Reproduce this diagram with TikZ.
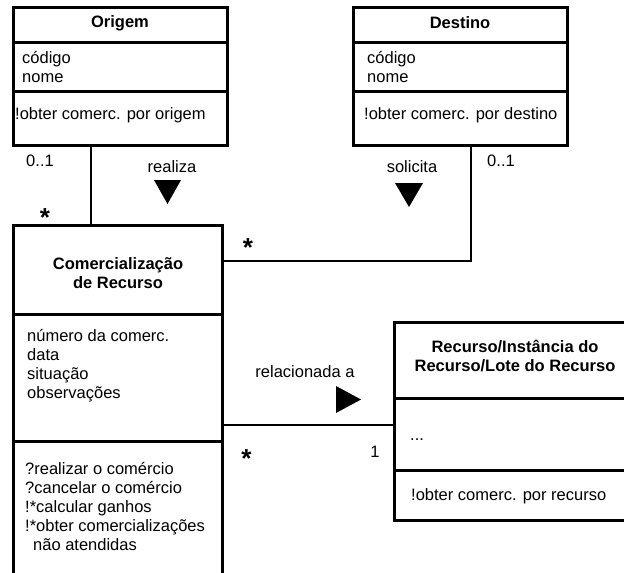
\documentclass[tikz,border=0pt]{standalone}
\usepackage{fontspec}
\setmainfont{Liberation Sans}
\begin{document}
\begin{tikzpicture}[x=1pt,y=-1pt,
  box/.style={draw, line width=3pt, inner sep=0pt, outer sep=0pt},
  sep/.style={line width=3pt},
  assoc/.style={line width=2pt},
  lbl/.style={inner sep=0pt, font=\fontsize{16.5}{19}\selectfont},
  star/.style={inner sep=0pt, anchor=base, font=\fontsize{26}{26}\selectfont\bfseries},
  txt/.style={lbl, anchor=west, align=left},
  title/.style={inner sep=0pt, font=\fontsize{16.5}{18.5}\selectfont\bfseries, align=center},
  dirmark/.style={fill=black}]
\useasboundingbox (0,0) rectangle (624,573);
\clip (0,0) rectangle (624,573);

% class boxes
\node[box, minimum width=214pt, minimum height=138pt] (origem) at (120,76) {};
\node[box, minimum width=214pt, minimum height=138pt] (destino) at (460,76) {};
\node[box, minimum width=209pt, minimum height=375pt] (comerc) at (117.5,412.5) {};
\node[box, minimum width=256pt, minimum height=198pt] (recurso) at (522,421) {};

% compartment separators
\draw[sep] (13,42) -- (227,42);
\draw[sep] (13,91) -- (227,91);
\draw[sep] (353,42) -- (567,42);
\draw[sep] (353,91) -- (567,91);
\draw[sep] (13,314) -- (222,314);
\draw[sep] (13,441) -- (222,441);
\draw[sep] (394,398) -- (624,398);
\draw[sep] (394,470) -- (624,470);

% class texts
\node[title] (t-origem) at (120,23) {Origem};
\node[txt] (a-origem) at (22,67) {código\\nome};
\node[txt] (o-origem) at (15,115) {!obter comerc. por origem};

\node[title] (t-destino) at (460,23) {Destino};
\node[txt] (a-destino) at (367,67) {código\\nome};
\node[txt] (o-destino) at (364,115) {!obter comerc. por destino};

\node[title] (t-comerc) at (118,273) {Comercialização\\ de Recurso};
\node[txt] (a-comerc) at (27,365.5) {número da comerc.\\data\\situação\\observações};
\node[txt] (o-comerc) at (25,506) {?realizar o comércio\\?cancelar o comércio\\!*calcular ganhos\\!*obter comercializações\\\hspace*{8pt}não atendidas};

\node[title] (t-recurso) at (515,356) {Recurso/Instância do\\Recurso/Lote do Recurso};
\node[txt] (a-recurso) at (410,440) {...};
\node[txt] (o-recurso) at (411,496) {!obter comerc. por recurso};

% connector anchors
\coordinate (xo) at (91,0);
\coordinate (xd) at (471,0);
\coordinate (yd) at (0,261);
\coordinate (yr) at (0,425);
\coordinate (bend) at (471,261);

% associations
\draw[assoc] (origem.south -| xo) -- (comerc.north -| xo);
\draw[assoc] (destino.south -| xd) -- (bend) -- (comerc.east |- yd);
\draw[assoc] (comerc.east |- yr) -- (recurso.west |- yr);

% association names and reading direction
\node[lbl] (n-realiza) at (172,167) {realiza};
\fill[dirmark] (154,180) -- (181,180) -- (167.5,204) -- cycle;
\node[lbl] (n-solicita) at (412,167) {solicita};
\fill[dirmark] (395,183) -- (423,183) -- (409,207) -- cycle;
\node[lbl] (n-rel) at (305,372) {relacionada a};
\fill[dirmark] (336,386) -- (361,399.5) -- (336,413) -- cycle;

% multiplicities
\node[lbl] (m-o1) at (40,161) {0..1};
\node[star] (m-o2) at (45,226) {*};
\node[lbl] (m-d1) at (501,161) {0..1};
\node[star] (m-d2) at (248,256) {*};
\node[star] (m-r1) at (246.5,467) {*};
\node[lbl] (m-r2) at (375,452) {1};
\end{tikzpicture}
\end{document}
